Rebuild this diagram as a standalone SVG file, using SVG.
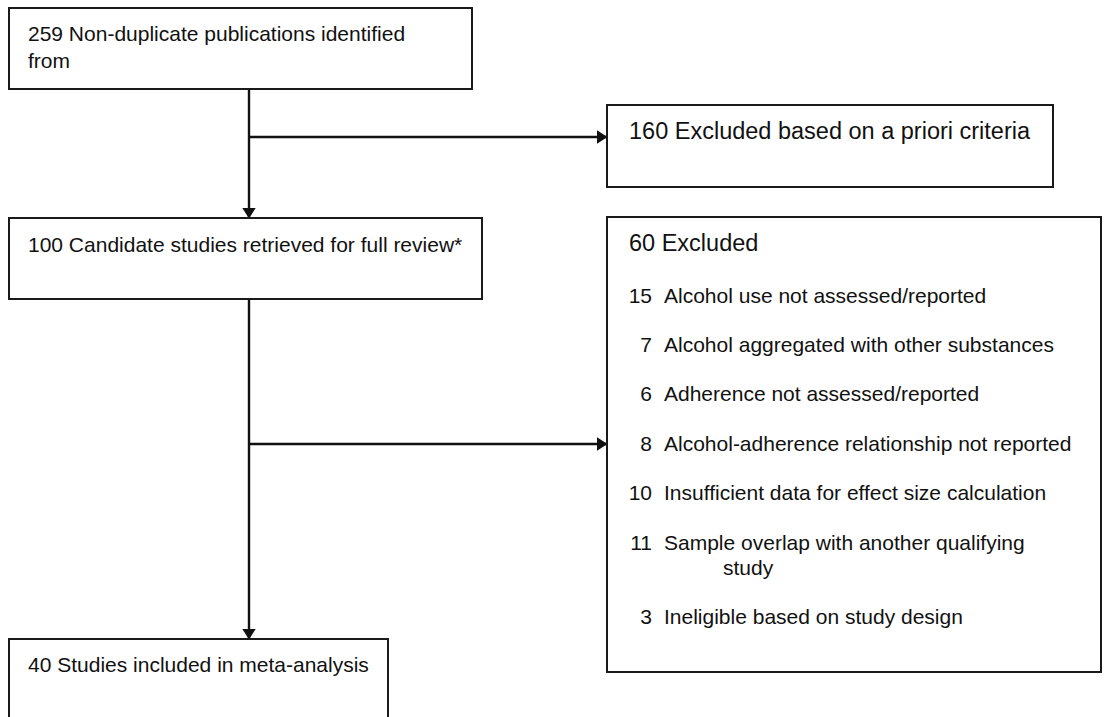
<svg xmlns="http://www.w3.org/2000/svg" width="1115" height="717" viewBox="0 0 1115 717">
<defs>
<style>
.box{fill:#fff;stroke:#1a1a1a;stroke-width:2}
.t{font-family:"Liberation Sans",Arial,sans-serif;font-size:21px;fill:#111}
.h{font-size:23.5px}
.n{text-anchor:end}
.ln{stroke:#111;stroke-width:2.4;fill:none}
</style>
<marker id="ah" markerWidth="11" markerHeight="14" refX="10.5" refY="7" orient="auto" markerUnits="userSpaceOnUse">
<path d="M0,0 L11,7 L0,14 Z" fill="#111"/>
</marker>
</defs>
<rect width="1115" height="717" fill="#fff"/>
<g id="connectors">
<line class="ln" x1="249" y1="89" x2="249" y2="218" marker-end="url(#ah)"/>
<line class="ln" x1="249" y1="137" x2="607" y2="137" marker-end="url(#ah)"/>
<line class="ln" x1="249" y1="299" x2="249" y2="639" marker-end="url(#ah)"/>
<line class="ln" x1="249" y1="444" x2="607" y2="444" marker-end="url(#ah)"/>
</g>
<g id="node-identified">
<rect class="box" x="9" y="8" width="463" height="81"/>
<text class="t" x="28" y="41">259 Non-duplicate publications identified</text>
<text class="t" x="28" y="68">from</text>
</g>
<g id="node-excluded-apriori">
<rect class="box" x="607" y="105" width="446" height="82"/>
<text class="t h" x="629" y="139">160 Excluded based on a priori criteria</text>
</g>
<g id="node-candidates">
<rect class="box" x="9" y="218" width="473" height="81"/>
<text class="t" x="28" y="252">100 Candidate studies retrieved for full review*</text>
</g>
<g id="node-excluded-60">
<rect class="box" x="607" y="217" width="494" height="455"/>
<text class="t h" x="629" y="251">60 Excluded</text>
<text class="t n" x="652" y="303">15</text><text class="t" x="664" y="303">Alcohol use not assessed/reported</text>
<text class="t n" x="652" y="352">7</text><text class="t" x="664" y="352">Alcohol aggregated with other substances</text>
<text class="t n" x="652" y="401">6</text><text class="t" x="664" y="401">Adherence not assessed/reported</text>
<text class="t n" x="652" y="451">8</text><text class="t" x="664" y="451">Alcohol-adherence relationship not reported</text>
<text class="t n" x="652" y="500">10</text><text class="t" x="664" y="500">Insufficient data for effect size calculation</text>
<text class="t n" x="652" y="550">11</text><text class="t" x="664" y="550">Sample overlap with another qualifying</text>
<text class="t" x="723" y="575">study</text>
<text class="t n" x="652" y="624">3</text><text class="t" x="664" y="624">Ineligible based on study design</text>
</g>
<g id="node-included">
<rect class="box" x="9" y="639" width="379" height="100"/>
<text class="t" x="28" y="672">40 Studies included in meta-analysis</text>
</g>
</svg>
